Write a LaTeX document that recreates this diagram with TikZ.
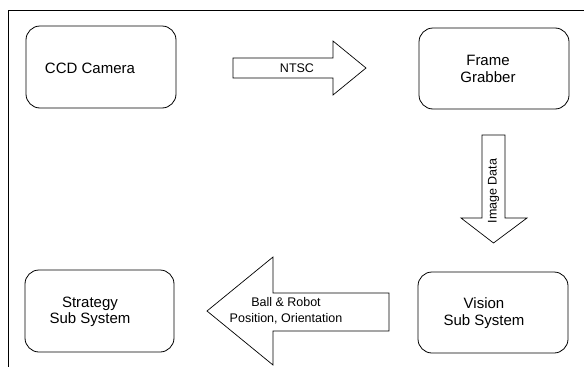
\documentclass[tikz,border=0pt]{standalone}
\usepackage{fontspec}
\setmainfont{Liberation Sans}
\begin{document}
\begin{tikzpicture}[x=1pt,y=-1pt,
  box/.style={draw, rounded corners=14pt, line width=0.8pt, inner sep=0pt},
  boxtext/.style={align=center, inner sep=0pt, font=\fontsize{15}{16.5}\selectfont},
  blockarrow/.style={draw, line width=0.7pt, line join=miter},
  arrowtext/.style={align=center, inner sep=0pt, font=\fontsize{12.5}{16}\selectfont}]
\useasboundingbox (0,0) rectangle (584,367);
% frame (only top and left edges visible)
\coordinate (ftl) at (8,10);
\coordinate (ftr) at (584,10);
\coordinate (fbl) at (8,367);
\draw[line width=0.8pt] (fbl) -- (ftl) -- (ftr);
% boxes
\node[box, minimum width=150pt, minimum height=82pt] (ccd) at (101,67) {};
\node[boxtext] (ccdt) at (90,68) {CCD Camera};
\node[box, minimum width=150pt, minimum height=81pt] (fg) at (494,68.5) {};
\node[boxtext] (fgt) at (488,69) {Frame\\Grabber};
\node[box, minimum width=150pt, minimum height=81pt] (vis) at (493,312.5) {};
\node[boxtext] (vist) at (484,313) {Vision\\Sub System};
\node[box, minimum width=149pt, minimum height=82pt] (str) at (99.5,311) {};
\node[boxtext] (strt) at (90,312) {Strategy\\Sub System};
% block arrows
\draw[blockarrow] (233,58) -- (333,58) -- (333,41) -- (366,68) -- (333,95) -- (333,78) -- (233,78) -- cycle;
\node[arrowtext] (ntsc) at (297,68) {NTSC};
\draw[blockarrow] (482,135) -- (505,135) -- (505,218) -- (527,218) -- (493.5,243) -- (461,218) -- (482,218) -- cycle;
\node[arrowtext, rotate=90] (imgd) at (493.5,191) {Image Data};
\draw[blockarrow] (389,293) -- (273,293) -- (273,257) -- (207,311) -- (273,365) -- (273,331) -- (389,331) -- cycle;
\node[arrowtext] (ball) at (286,311) {Ball \& Robot\\Position, Orientation};
\end{tikzpicture}
\end{document}
